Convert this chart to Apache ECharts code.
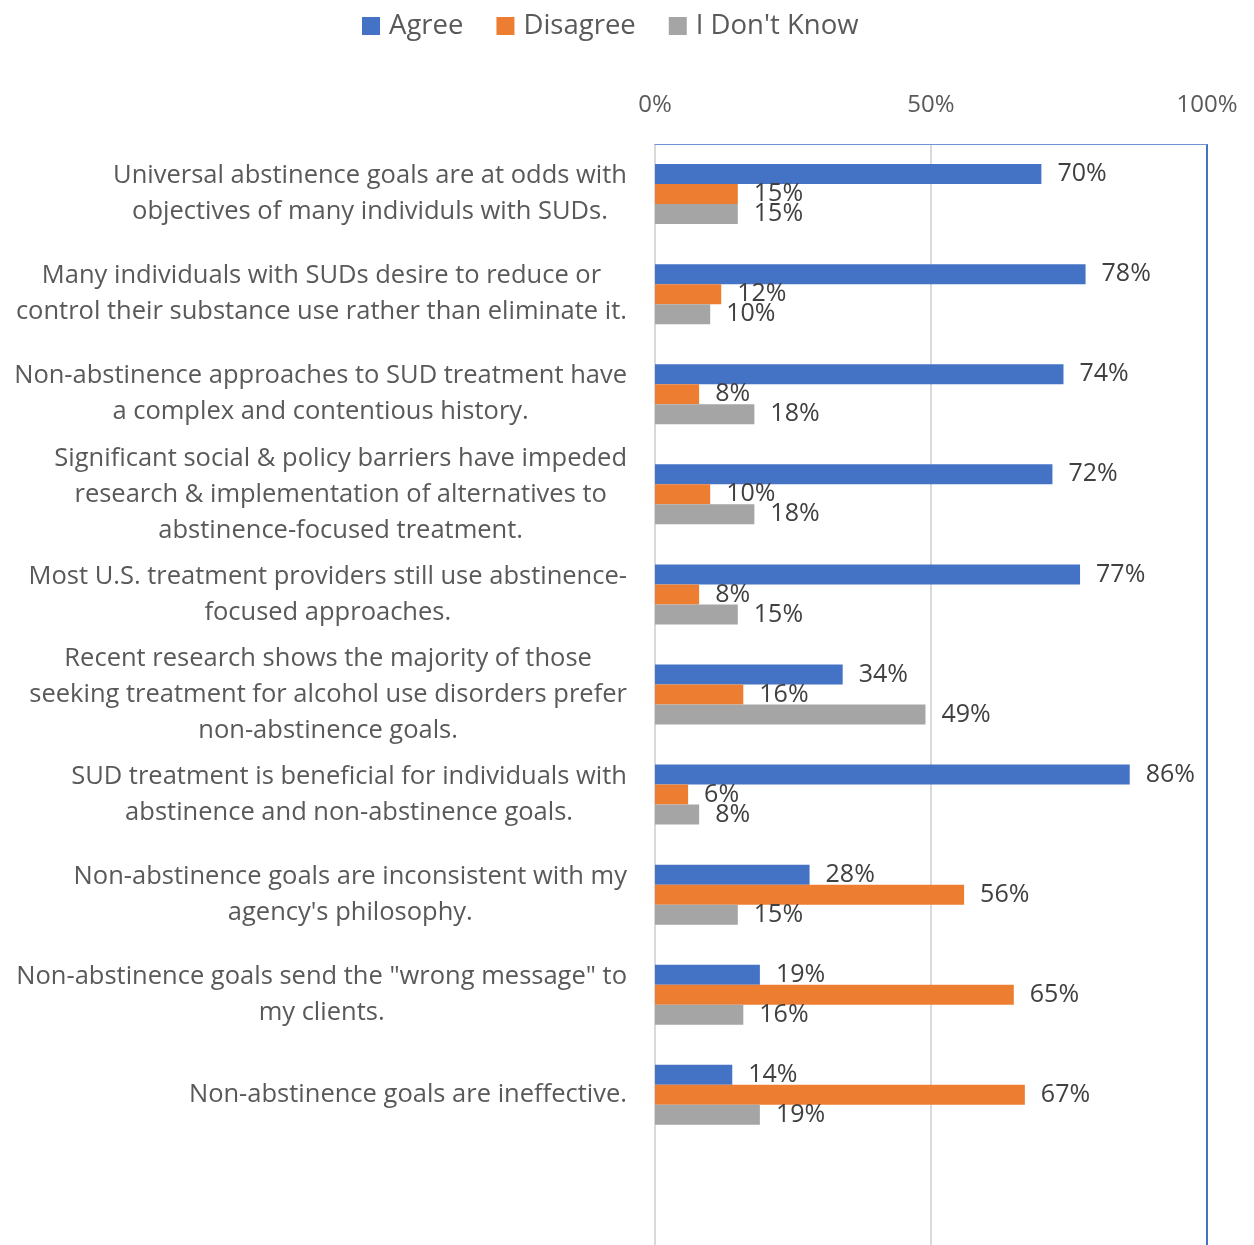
<!DOCTYPE html>
<html>
<head>
<meta charset="utf-8">
<style>
  html, body { margin: 0; padding: 0; background: #fff; }
  #chart { width: 1254px; height: 1245px; }
</style>
<script src="https://cdn.jsdelivr.net/npm/echarts@6/dist/echarts.min.js"></script>
</head>
<body>
<div id="chart"></div>
<script>
// Survey statements (top to bottom) and the share of respondents per answer
const statements = [
  "Universal abstinence goals are at odds with\nobjectives of many individuls with SUDs.",
  "Many individuals with SUDs desire to reduce or\ncontrol their substance use rather than eliminate it.",
  "Non-abstinence approaches to SUD treatment have\na complex and contentious history.",
  "Significant social & policy barriers have impeded\nresearch & implementation of alternatives to\nabstinence-focused treatment.",
  "Most U.S. treatment providers still use abstinence-\nfocused approaches.",
  "Recent research shows the majority of those\nseeking treatment for alcohol use disorders prefer\nnon-abstinence goals.",
  "SUD treatment is beneficial for individuals with\nabstinence and non-abstinence goals.",
  "Non-abstinence goals are inconsistent with my\nagency's philosophy.",
  "Non-abstinence goals send the \"wrong message\" to\nmy clients.",
  "Non-abstinence goals are ineffective."
];
const agree    = [70, 78, 74, 72, 77, 34, 86, 28, 19, 14];
const disagree = [15, 12,  8, 10,  8, 16,  6, 56, 65, 67];
const dontKnow = [15, 10, 18, 18, 15, 49,  8, 15, 16, 19];

const seriesNames = ["Agree", "Disagree", "I Don't Know"];
const seriesColors = ["#4472C4", "#ED7D31", "#A5A5A5"];

const FONT = "'Open Sans', 'Noto Sans', sans-serif";

const chart = echarts.init(document.getElementById('chart'), null, { renderer: 'canvas' });

function barSeries(name, values, color) {
  return {
    name: name,
    type: 'bar',
    data: values,
    barWidth: 20,
    barGap: '0%',
    itemStyle: { color: color },
    label: {
      show: true,
      position: 'right',
      distance: 16,
      formatter: '{c}%',
      fontFamily: FONT,
      fontSize: 25,
      color: '#404040'
    }
  };
}

chart.setOption({
  animation: false,
  backgroundColor: '#ffffff',
  legend: {
    data: seriesNames,
    left: 357,
    top: 7,
    itemWidth: 18,
    itemHeight: 18,
    itemGap: 33,
    icon: 'rect',
    textStyle: {
      fontFamily: FONT,
      fontSize: 27.5,
      color: '#595959',
      padding: [0, 0, 0, 4]
    }
  },
  grid: {
    left: 655,
    right: 47,
    top: 144,
    height: 1104,
    containLabel: false
  },
  xAxis: {
    type: 'value',
    position: 'top',
    min: 0,
    max: 100,
    interval: 50,
    axisLine: { show: true, lineStyle: { color: '#6F93D3', width: 1 } },
    axisTick: { show: false },
    axisLabel: {
      formatter: '{value}%',
      fontFamily: FONT,
      fontSize: 24,
      color: '#595959',
      margin: 27
    },
    splitLine: {
      show: true,
      lineStyle: { color: ['#D9D9D9', '#D9D9D9', '#4472C4'], width: 2 }
    }
  },
  yAxis: {
    type: 'category',
    data: statements,
    inverse: true,
    max: statements.length,
    axisLine: { show: false },
    axisTick: { show: false },
    axisLabel: {
      margin: 28,
      align: 'right',
      interval: 0,
      formatter: function (value) {
        if (!value || typeof value !== 'string' || value.indexOf(' ') < 0) return '';
        return value.split('\n').map(function (line) { return '{c|' + line + '}'; }).join('\n');
      },
      rich: {
        c: {
          fontFamily: FONT,
          fontSize: 25.5,
          lineHeight: 36,
          color: '#595959',
          align: 'center'
        }
      }
    }
  },
  series: [
    barSeries(seriesNames[0], agree, seriesColors[0]),
    barSeries(seriesNames[1], disagree, seriesColors[1]),
    barSeries(seriesNames[2], dontKnow, seriesColors[2])
  ]
});
</script>
</body>
</html>
